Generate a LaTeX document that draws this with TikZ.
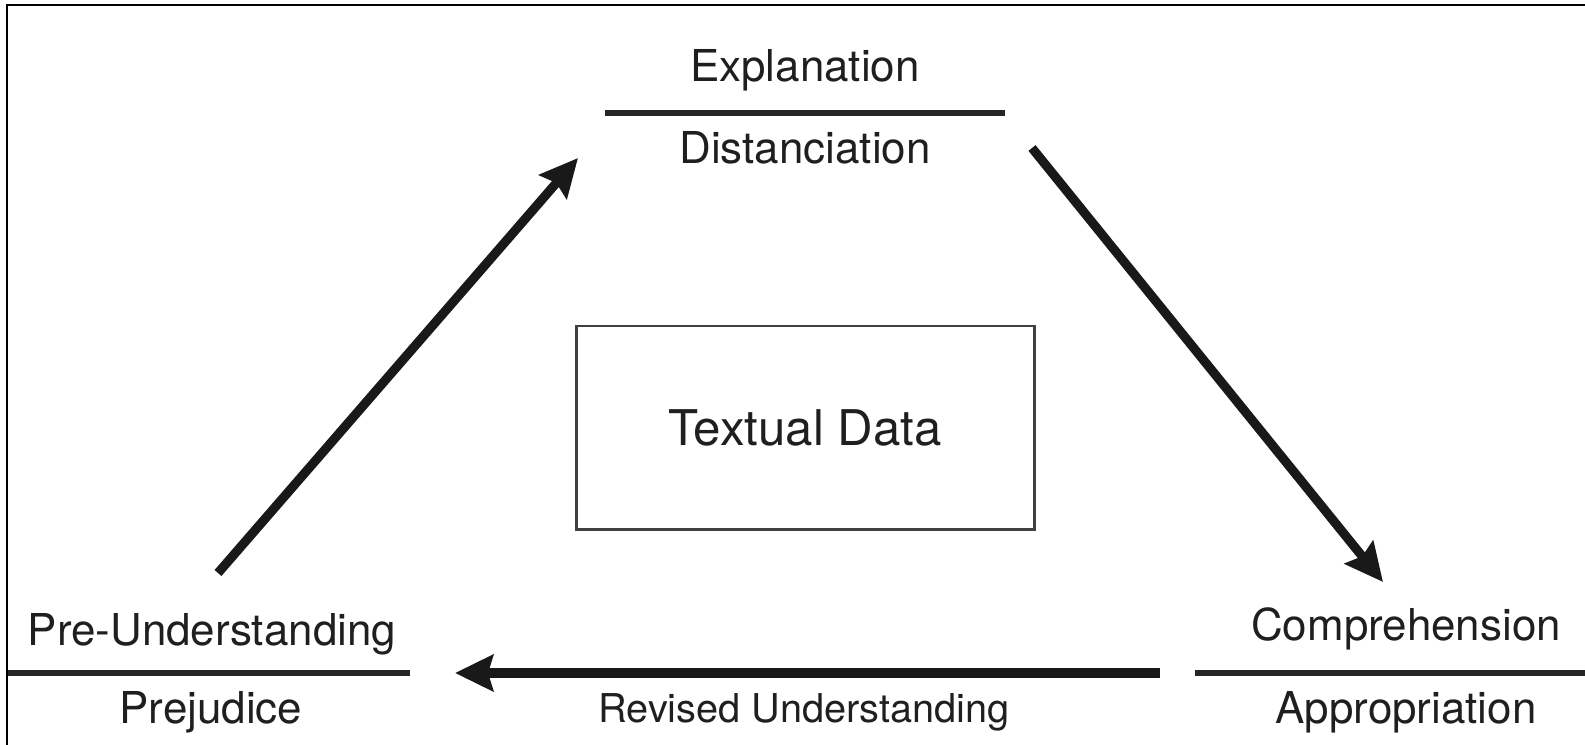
\documentclass[tikz,border=0pt]{standalone}
\usepackage{fontspec}
\setmainfont{TeX Gyre Heros}
\usepackage{tikz}
\usetikzlibrary{shapes, arrows.meta, positioning}
\usepackage{xcolor}

\begin{document}
\begin{tikzpicture}[thick,
  term/.style={font=\fontsize{12.5}{14}\selectfont, text=black!88, anchor=base, inner sep=0pt},
  divider/.style={line width=1.5pt, black!85},
  bigarrow/.style={line width=2.6pt, black!90, -{Stealth[length=3.8mm, width=3.6mm, inset=0.5mm]}}]

\useasboundingbox (0,0) rectangle (15.85,7.44);
% frame, cut at right and bottom
\draw [line width=0.6pt] (0.07,-0.1) -- (0.07,7.39) -- (15.95,7.39);

% top pair
\node[term] (expl) at (8.05,6.62) {Explanation};
\node[term] (dist) at (8.05,5.81) {Distanciation};
\coordinate (topL) at (6.05,6.31);
\coordinate (topR) at (10.05,6.31);
\draw[divider] (topL) -- (topR);

% left pair
\node[term] (preund) at (2.12,0.99) {Pre-Understanding};
\node[term] (prej) at (2.11,0.21) {Prejudice};
\coordinate (leftL) at (0.08,0.71);
\coordinate (leftR) at (4.10,0.71);
\draw[divider] (leftL) -- (leftR);

% right pair
\node[term] (compr) at (14.06,1.04) {Comprehension};
\node[term] (appr) at (14.06,0.21) {Appropriation};
\coordinate (rightL) at (11.95,0.71);
\coordinate (rightR) at (15.95,0.71);
\draw[divider] (rightL) -- (rightR);

% centre box
\node[draw=black!75, line width=0.85pt, minimum width=4.58cm, minimum height=2.03cm,
  font=\fontsize{14}{16}\selectfont, text=black!88] (data) at (8.05,3.165) {Textual Data};

% arrows
\coordinate (a1s) at (2.18,1.71);
\coordinate (a1e) at (5.78,5.86);
\coordinate (a2s) at (10.32,5.96);
\coordinate (a2e) at (13.83,1.62);
\coordinate (a3s) at (11.60,0.71);
\coordinate (a3e) at (4.55,0.71);
\draw[bigarrow] (a1s) -- (a1e);
\draw[bigarrow] (a2s) -- (a2e);
\draw[bigarrow] (a3s) -- (a3e);
\node[term, font=\fontsize{11.3}{13}\selectfont] (revised) at (8.04,0.22) {Revised Understanding};

\end{tikzpicture}
\end{document}
